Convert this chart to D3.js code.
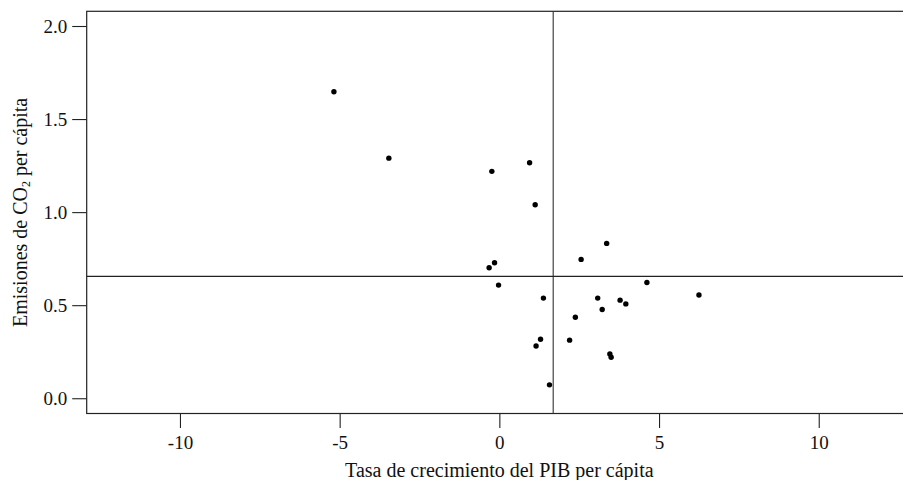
<!DOCTYPE html>
<html>
<head>
<meta charset="utf-8">
<script src="https://cdn.jsdelivr.net/npm/d3@7"></script>
<style>
  html, body { margin: 0; padding: 0; background: #fff; }
  svg { display: block; }
  text { font-family: "Liberation Serif", "Times New Roman", serif; fill: #111; }
</style>
</head>
<body>
<svg id="chart" width="903" height="480"></svg>
<script>
// GDP per capita growth rate (%)
const growth = [-5.18, -3.46, -0.235, 0.947, 1.122, 3.36, 2.56, -0.15, -0.32, 4.62, -0.025, 6.25,
                1.38, 3.08, 3.78, 3.96, 3.22, 2.38, 1.29, 1.15, 2.20, 3.46, 3.50, 1.57];
// CO2 emissions per capita
const co2 = [1.647, 1.290, 1.219, 1.265, 1.040, 0.832, 0.746, 0.728, 0.701, 0.622, 0.608, 0.555,
             0.538, 0.538, 0.527, 0.507, 0.477, 0.435, 0.317, 0.281, 0.312, 0.238, 0.220, 0.072];
const xTicks = [-10, -5, 0, 5, 10];
const yTicks = [0.0, 0.5, 1.0, 1.5, 2.0];
const xDomain = [-12.92, 12.92];
const yDomain = [-0.082, 2.079];
const xTitle = "Tasa de crecimiento del PIB per cápita";

(function () {
const svg = d3.select("#chart");
const mLeft = 86.7, mRight = 912, mTop = 11.3, mBottom = 413.5;

const x = d3.scaleLinear().domain(xDomain).range([mLeft, mRight]);
const y = d3.scaleLinear().domain(yDomain).range([mBottom, mTop]);

// frame
svg.append("rect")
  .attr("x", mLeft).attr("y", mTop)
  .attr("width", mRight - mLeft).attr("height", mBottom - mTop)
  .attr("fill", "none").attr("stroke", "#222").attr("stroke-width", 1.2);

// axes
const xAxis = svg.append("g")
  .attr("transform", `translate(0,${mBottom})`)
  .call(d3.axisBottom(x).tickValues(xTicks).tickSize(14.5).tickPadding(8).tickFormat(d3.format("d")));
const yAxis = svg.append("g")
  .attr("transform", `translate(${mLeft},0)`)
  .call(d3.axisLeft(y).tickValues(yTicks).tickSize(14.5).tickPadding(5).tickFormat(d3.format(".1f")));
[xAxis, yAxis].forEach(g => {
  g.select(".domain").remove();
  g.selectAll(".tick line").attr("stroke", "#222").attr("stroke-width", 1.1);
  g.selectAll(".tick text").style("font-family", '"Liberation Serif", serif').style("font-size", "19px").attr("fill", "#111");
});
xAxis.selectAll(".tick text").text(d => d < 0 ? "-" + Math.abs(d) : String(d));

// mean reference lines
const mx = d3.mean(growth), my = d3.mean(co2);
svg.append("line")
  .attr("x1", x(mx)).attr("x2", x(mx)).attr("y1", mTop).attr("y2", mBottom)
  .attr("stroke", "#333").attr("stroke-width", 1.1);
svg.append("line")
  .attr("x1", mLeft).attr("x2", mRight).attr("y1", y(my)).attr("y2", y(my))
  .attr("stroke", "#222").attr("stroke-width", 1.1);

// points
svg.append("g").selectAll("circle")
  .data(growth.map((g, i) => [g, co2[i]]))
  .join("circle")
  .attr("cx", d => x(d[0])).attr("cy", d => y(d[1]))
  .attr("r", 2.7).attr("fill", "#000");

// titles
svg.append("text")
  .attr("x", (mLeft + mRight) / 2).attr("y", 476.5)
  .attr("text-anchor", "middle").style("font-size", "20px")
  .text(xTitle);

const yt = svg.append("text")
  .attr("transform", `translate(26.5,${(mTop + mBottom) / 2}) rotate(-90)`)
  .attr("text-anchor", "middle").style("font-size", "20px");
yt.append("tspan").text("Emisiones de CO");
yt.append("tspan").attr("dy", "0.3em").style("font-size", "12px").text("2");
yt.append("tspan").attr("dy", "-0.18em").text(" per cápita");
})();
</script>
</body>
</html>
